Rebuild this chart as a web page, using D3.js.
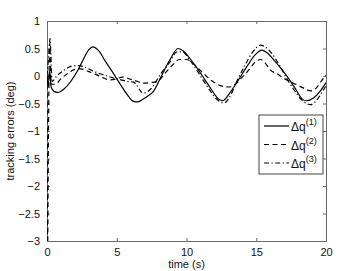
<!DOCTYPE html>
<html>
<head>
<meta charset="utf-8">
<script src="https://cdn.jsdelivr.net/npm/d3@7"></script>
<style>
  body { margin: 0; background: #fff; }
  svg { display: block; font-family: "Liberation Sans", Arial, sans-serif; }
</style>
</head>
<body>
<svg id="chart" width="360" height="271"></svg>
<script>
// time (s) and values (deg)
const q1Time = [0, 0.08, 0.18, 0.3, 0.5, 0.8, 1.2, 1.7, 2.2, 2.7, 3.0, 3.3, 3.7, 4.2, 4.7, 5.2, 5.7, 6.2, 6.5, 6.9, 7.3, 7.6, 8.2, 8.8, 9.4, 9.8, 10.3, 10.8, 11.3, 11.8, 12.3, 12.6, 13.1, 13.7, 14.3, 14.9, 15.4, 15.8, 16.3, 16.8, 17.3, 17.8, 18.3, 18.6, 19.1, 19.6, 20];
const q1Vals = [0, -0.2, 0.1, -0.2, -0.28, -0.3, -0.24, -0.1, 0.1, 0.35, 0.48, 0.53, 0.46, 0.26, 0.07, -0.13, -0.32, -0.46, -0.47, -0.42, -0.35, -0.29, 0.0, 0.29, 0.5, 0.45, 0.3, 0.13, -0.06, -0.25, -0.42, -0.45, -0.31, -0.08, 0.16, 0.38, 0.47, 0.42, 0.28, 0.13, -0.04, -0.23, -0.42, -0.45, -0.4, -0.27, -0.12];

const q2Time = [0, 0.04, 0.1, 0.2, 0.3, 0.6, 1.0, 1.5, 2.0, 2.4, 3.0, 3.5, 4.0, 4.5, 5.0, 5.4, 6.0, 6.5, 6.9, 7.4, 7.9, 8.5, 9.0, 9.5, 10.0, 10.5, 11.0, 11.5, 12.0, 12.5, 13.0, 13.5, 14.0, 14.5, 15.0, 15.3, 15.6, 16.0, 16.5, 16.9, 17.4, 17.9, 18.4, 18.9, 19.3, 19.7, 20];
const q2Vals = [0, -3.2, -1.2, 0.6, -0.15, -0.15, -0.05, 0.05, 0.12, 0.13, 0.08, 0.03, -0.03, -0.07, -0.05, -0.02, -0.06, -0.1, -0.13, -0.12, -0.1, 0.06, 0.2, 0.3, 0.3, 0.22, 0.1, -0.02, -0.12, -0.18, -0.2, -0.15, -0.02, 0.12, 0.27, 0.3, 0.25, 0.11, 0.04, -0.03, -0.1, -0.16, -0.22, -0.27, -0.22, -0.08, 0.02];

const q3Time = [0, 0.1, 0.22, 0.36, 0.7, 1.2, 1.8, 2.3, 2.8, 3.3, 3.8, 4.3, 4.8, 5.3, 5.8, 6.2, 6.9, 7.5, 8.1, 8.8, 9.3, 9.7, 10.2, 10.7, 11.2, 11.7, 12.2, 12.7, 13.1, 13.6, 14.2, 14.7, 15.3, 15.7, 16.2, 16.7, 17.2, 17.7, 18.2, 18.6, 18.9, 19.3, 19.7, 20];
const q3Vals = [0, 0.3, 0.68, -0.1, 0.0, 0.1, 0.18, 0.19, 0.15, 0.09, 0.04, 0.0, -0.04, -0.07, -0.1, -0.11, -0.31, -0.22, 0.02, 0.25, 0.44, 0.44, 0.3, 0.12, -0.08, -0.27, -0.43, -0.49, -0.38, -0.1, 0.2, 0.42, 0.56, 0.52, 0.38, 0.18, -0.05, -0.25, -0.42, -0.5, -0.52, -0.45, -0.3, -0.18];

const xTicks = [0, 5, 10, 15, 20];
const yTicks = [1, 0.5, 0, -0.5, -1, -1.5, -2, -2.5, -3];
const seriesNames = ["(1)", "(2)", "(3)"];

const margin = {top: 21, right: 34, bottom: 30, left: 47};
const width = 360, height = 271;

const svg = d3.select('#chart');

const x = d3.scaleLinear()
  .domain([0, 20])
  .range([margin.left, width - margin.right]);

const y = d3.scaleLinear()
  .domain([-3, 1])
  .range([height - margin.bottom, margin.top]);

const fmt = d => d < 0 ? '\u2212' + Math.abs(d) : String(d);

svg.append('defs').append('clipPath').attr('id', 'clip')
  .append('rect')
  .attr('x', x(0)).attr('y', y(1))
  .attr('width', x(20) - x(0)).attr('height', y(-3) - y(1));

// box + inward ticks
const axisColor = '#6a6a6a';
const tickLen = 3;

svg.append('g')
  .attr('transform', `translate(0,${y(-3)})`)
  .call(d3.axisBottom(x).tickValues(xTicks).tickSizeInner(-tickLen).tickSizeOuter(0).tickPadding(7).tickFormat(fmt))
  .call(g => g.selectAll('text').attr('font-size', 11).attr('fill', '#111'));

svg.append('g')
  .attr('transform', `translate(0,${y(1)})`)
  .call(d3.axisTop(x).tickValues(xTicks).tickSizeInner(-tickLen).tickSizeOuter(0).tickFormat(''));

svg.append('g')
  .attr('transform', `translate(${x(0)},0)`)
  .call(d3.axisLeft(y).tickValues(yTicks).tickSizeInner(-tickLen).tickSizeOuter(0).tickPadding(7).tickFormat(fmt))
  .call(g => g.selectAll('text').attr('font-size', 11).attr('fill', '#111'));

svg.append('g')
  .attr('transform', `translate(${x(20)},0)`)
  .call(d3.axisRight(y).tickValues(yTicks).tickSizeInner(-tickLen).tickSizeOuter(0).tickFormat(''));

svg.selectAll('.domain').attr('stroke', axisColor);
svg.selectAll('.tick line').attr('stroke', axisColor);

// curves
const dashes = [null, '5,3.5', '5,2.5,1.2,2.5'];
const series = [
  q1Time.map((t, i) => [t, q1Vals[i]]),
  q2Time.map((t, i) => [t, q2Vals[i]]),
  q3Time.map((t, i) => [t, q3Vals[i]])
];

const line = d3.line()
  .x(d => x(d[0]))
  .y(d => y(d[1]))
  .curve(d3.curveMonotoneX);

svg.append('g')
  .attr('clip-path', 'url(#clip)')
  .selectAll('path')
  .data(series)
  .join('path')
  .attr('fill', 'none')
  .attr('stroke', '#000')
  .attr('stroke-width', 1.2)
  .attr('stroke-dasharray', (d, i) => dashes[i])
  .attr('d', line);

// legend
const lg = svg.append('g').attr('transform', 'translate(259,115)');
lg.append('rect')
  .attr('width', 64).attr('height', 59)
  .attr('fill', '#fff').attr('stroke', '#444').attr('stroke-width', 1);

const rows = lg.selectAll('g.row')
  .data(seriesNames)
  .join('g')
  .attr('class', 'row')
  .attr('transform', (d, i) => `translate(0,${11 + i * 18.5})`);

rows.append('line')
  .attr('x1', 5).attr('x2', 30)
  .attr('stroke', '#000').attr('stroke-width', 1.2)
  .attr('stroke-dasharray', (d, i) => dashes[i]);

const lt = rows.append('text')
  .attr('x', 32).attr('y', 5)
  .attr('font-size', 12).attr('fill', '#111');
lt.append('tspan').text('\u0394q');
lt.append('tspan').attr('dy', -6).attr('font-size', 9).text(d => d);

// axis labels
svg.append('text')
  .attr('x', (x(0) + x(20)) / 2).attr('y', 268)
  .attr('text-anchor', 'middle').attr('font-size', 11).attr('fill', '#111')
  .text('time (s)');

svg.append('text')
  .attr('transform', `translate(14,${(y(1) + y(-3)) / 2}) rotate(-90)`)
  .attr('text-anchor', 'middle').attr('font-size', 11).attr('fill', '#111')
  .text('tracking errors (deg)');
</script>
</body>
</html>
